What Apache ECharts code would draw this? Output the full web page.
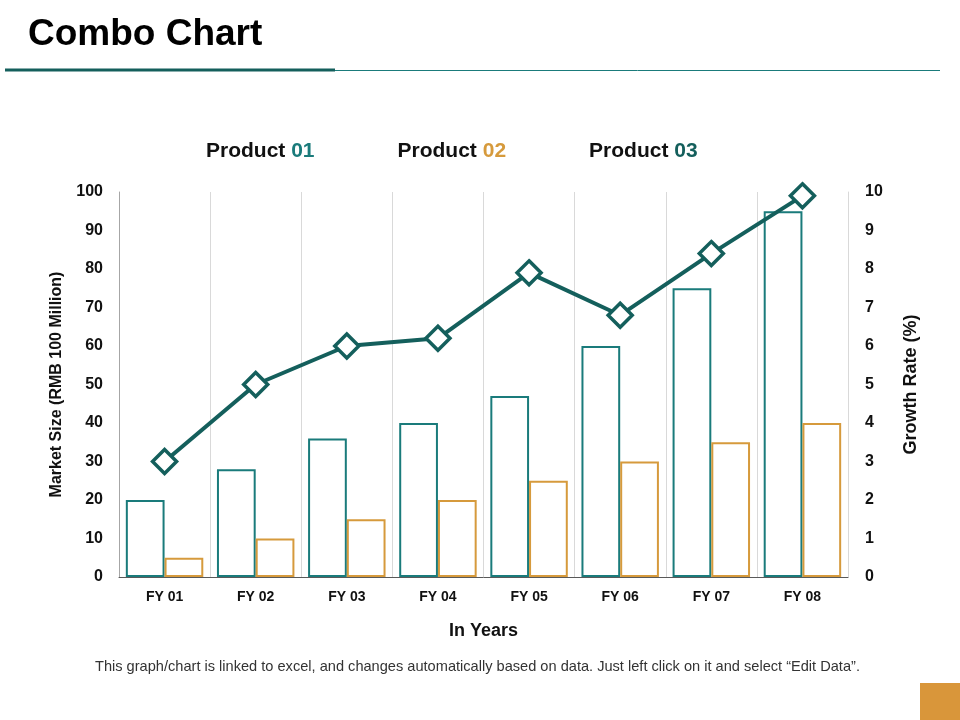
<!DOCTYPE html>
<html>
<head>
<meta charset="utf-8">
<script src="https://cdn.jsdelivr.net/npm/echarts@6/dist/echarts.min.js"></script>
<style>
  html, body { margin: 0; padding: 0; background: #fff; }
  #main { width: 960px; height: 720px; }
</style>
</head>
<body>
<div id="main"></div>
<script>
var years = ['FY 01', 'FY 02', 'FY 03', 'FY 04', 'FY 05', 'FY 06', 'FY 07', 'FY 08'];
var product01 = [20, 28, 36, 40, 47, 60, 75, 95];
var product02 = [5, 10, 15, 20, 25, 30, 35, 40];
var product03 = [3, 5, 6, 6.2, 7.9, 6.8, 8.4, 9.9];
var leftTicks = [0, 100, 10];
var rightTicks = [0, 10, 1];

var C_TEAL = '#1a7b7b';
var C_ORANGE = '#d69a3c';
var C_DARK = '#145f5c';
var FONT = '"Liberation Sans", Arial, sans-serif';

var myChart = echarts.init(document.getElementById('main'));
var option = {
    backgroundColor: '#fff',
    textStyle: { fontFamily: FONT },
    title: {
        text: 'Combo Chart',
        left: 23,
        top: 11,
        textStyle: { fontSize: 37, fontWeight: 'bold', color: '#000', fontFamily: FONT }
    },
    legend: {
        top: 136,
        left: 196,
        itemWidth: 0,
        itemGap: 78,
        icon: 'none',
        data: ['Product 01', 'Product 02', 'Product 03'],
        formatter: function (name) {
            var num = name.split(' ')[1];
            return '{t|Product }{n' + num + '|' + num + '}';
        },
        textStyle: {
            fontFamily: FONT,
            rich: {
                t: { fontSize: 21, fontWeight: 'bold', color: '#111', fontFamily: FONT },
                n01: { fontSize: 21, fontWeight: 'bold', color: C_TEAL, fontFamily: FONT },
                n02: { fontSize: 21, fontWeight: 'bold', color: C_ORANGE, fontFamily: FONT },
                n03: { fontSize: 21, fontWeight: 'bold', color: C_DARK, fontFamily: FONT }
            }
        }
    },
    grid: {
        left: 119,
        right: 112,
        top: 192,
        bottom: 143
    },
    xAxis: {
        type: 'category',
        data: years,
        name: 'In Years',
        nameLocation: 'middle',
        nameGap: 45,
        nameTextStyle: { fontSize: 18, fontWeight: 'bold', color: '#111' },
        axisLine: { lineStyle: { color: '#595959', width: 1 } },
        axisTick: { show: false },
        axisLabel: { fontSize: 14, fontWeight: 'bold', color: '#111', margin: 13 },
        splitLine: { show: true, lineStyle: { color: '#d9d9d9', width: 1 } }
    },
    yAxis: [
        {
            type: 'value',
            min: leftTicks[0],
            max: leftTicks[1],
            interval: leftTicks[2],
            name: 'Market Size (RMB 100 Million)',
            nameLocation: 'middle',
            nameGap: 54,
            nameTextStyle: { fontSize: 16, fontWeight: 'bold', color: '#111' },
            axisLine: { show: true, lineStyle: { color: '#a6a6a6' } },
            axisTick: { show: false },
            axisLabel: { fontSize: 16, fontWeight: 'bold', color: '#111', margin: 16 },
            splitLine: { show: false }
        },
        {
            type: 'value',
            min: rightTicks[0],
            max: rightTicks[1],
            interval: rightTicks[2],
            name: 'Growth Rate (%)',
            nameLocation: 'middle',
            nameGap: 54,
            nameRotate: 90,
            nameTextStyle: { fontSize: 18, fontWeight: 'bold', color: '#111' },
            axisLine: { show: true, lineStyle: { color: '#d9d9d9' } },
            axisTick: { show: false },
            axisLabel: { fontSize: 16, fontWeight: 'bold', color: '#111', margin: 17 },
            splitLine: { show: false }
        }
    ],
    series: [
        {
            name: 'Product 01',
            type: 'bar',
            barGap: '0%',
            barCategoryGap: '15%',
            data: product01,
            itemStyle: { color: '#fff', borderColor: C_TEAL, borderWidth: 2 }
        },
        {
            name: 'Product 02',
            type: 'bar',
            data: product02,
            itemStyle: { color: '#fff', borderColor: C_ORANGE, borderWidth: 2 }
        },
        {
            name: 'Product 03',
            type: 'line',
            yAxisIndex: 1,
            data: product03,
            symbol: 'diamond',
            symbolSize: 24,
            lineStyle: { color: C_DARK, width: 4 },
            itemStyle: { color: '#fff', borderColor: C_DARK, borderWidth: 3.5 },
            z: 5
        }
    ],
    graphic: [
        { type: 'line', shape: { x1: 5, y1: 70, x2: 335, y2: 70 }, style: { stroke: C_DARK, lineWidth: 3 } },
        { type: 'line', shape: { x1: 335, y1: 70.5, x2: 940, y2: 70.5 }, style: { stroke: C_TEAL, lineWidth: 1 } },
        {
            type: 'text',
            left: 95,
            top: 659,
            style: {
                text: 'This graph/chart is linked to excel, and changes automatically based on data. Just left click on it and select \u201cEdit Data\u201d.',
                fill: '#333',
                font: '14.6px ' + FONT
            }
        },
        { type: 'rect', shape: { x: 920, y: 683, width: 40, height: 37 }, style: { fill: '#d9963a' } }
    ]
};
myChart.setOption(option);
</script>
</body>
</html>
